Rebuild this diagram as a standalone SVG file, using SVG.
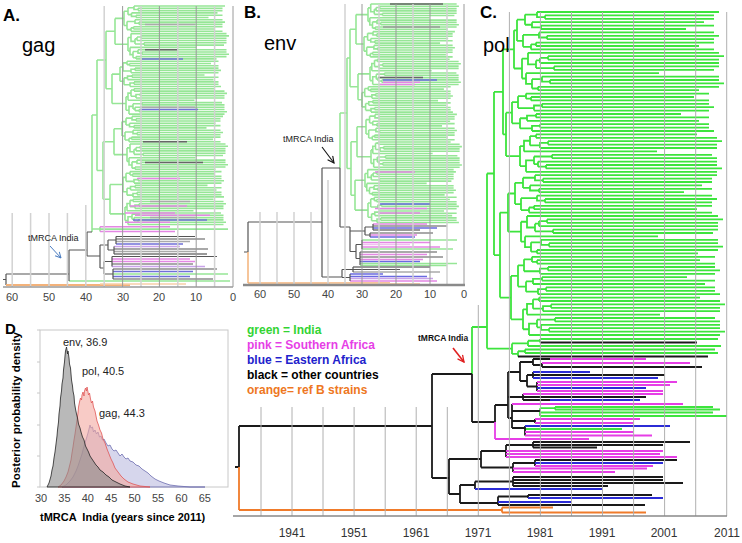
<svg xmlns="http://www.w3.org/2000/svg" width="742" height="543" viewBox="0 0 742 543">
<style>
text{font-family:"Liberation Sans",Arial,sans-serif}
.pl{font-weight:bold;font-size:17px;fill:#000}
.gn{font-size:20px;fill:#000}
.tk{font-size:11px;fill:#444;text-anchor:middle}
.tc{font-size:12px;fill:#333;text-anchor:middle}
.lg{font-size:12px;font-weight:bold}
.pA{fill:none;stroke:#96e696;stroke-width:1.6}
.pC{fill:none;stroke:#3de43d;stroke-width:1.8}
.k1{fill:none;stroke:#555;stroke-width:1.2}
.k2{fill:none;stroke:#1a1a1a;stroke-width:1.8}
.gl{fill:none;stroke:#d2d2d2;stroke-width:1.5}
.gd{fill:none;stroke:#9a9a9a;stroke-width:1}
.gc{fill:none;stroke:#b0b0b0;stroke-width:1}
.an{font-size:9px;fill:#222}
.dl{font-size:11px;fill:#222}
</style>
<defs>
<path id="t12" fill="none" vector-effect="non-scaling-stroke" d="M20 0H202M28 3.4H197M28 6.8H197M15 10.2H187M24 13.6H197M24 17H169M22 20.4H197M30 23.8H202M30 27.2H197M19 30.6H197M19 34H182M14 37.4H197M20 0V5.1H28M28 3.4V6.8M15 10.2V15.3H24M24 13.6V17M8 2.55V12.75M8 2.55H20M8 12.75H15M22 20.4V25.5H30M30 23.8V27.2M14 32.3V37.4M14 32.3H19M19 30.6V34M6 22.95V34.85M6 22.95H22M6 34.85H14M0 7.65V28.9M0 7.65H8M0 28.9H6"/>
<path id="t12b" fill="none" vector-effect="non-scaling-stroke" d="M6 0H197M26 3.4H202M26 6.8H197M18 10.2H197M32 13.6H197M32 17H192M4 20.4H137M20 23.8H197M28 27.2H197M28 30.6H202M16 34H197M16 37.4H177M26 3.4V6.8M18 5.1V10.2M18 5.1H26M14 7.65V15.3M14 7.65H18M14 15.3H32M32 13.6V17M6 0V11.475H14M28 27.2V30.6M20 23.8V28.9H28M16 34V37.4M10 26.35V35.7M10 26.35H20M10 35.7H16M4 20.4V31.03H10M0 5.74V25.7M0 5.74H6M0 25.7H4"/>
<marker id="mA" viewBox="0 0 10 10" refX="9" refY="5" markerWidth="7" markerHeight="7" markerUnits="userSpaceOnUse" orient="auto"><path d="M1 1L9 5L1 9" fill="none" stroke="#4a7cc0" stroke-width="1.4"/></marker>
<marker id="mB" viewBox="0 0 10 10" refX="9" refY="5" markerWidth="8" markerHeight="8" markerUnits="userSpaceOnUse" orient="auto"><path d="M1 1L9 5L1 9" fill="none" stroke="#111" stroke-width="1.4"/></marker>
<marker id="mC" viewBox="0 0 10 10" refX="9" refY="5" markerWidth="8" markerHeight="8" markerUnits="userSpaceOnUse" orient="auto"><path d="M1 1L9 5L1 9" fill="none" stroke="#e02020" stroke-width="1.6"/></marker>
</defs>
<rect width="742" height="543" fill="#fff"/>

<!-- PANEL A -->
<g id="panelA">
<g id="treeA-green" class="pA">
<use href="#t12" transform="translate(124,6) scale(.5,.6765)"/>
<use href="#t12b" transform="translate(128,33.6) scale(.5,.6765)"/>
<use href="#t12" transform="translate(120,86.5) scale(.5,-.6765)"/>
<use href="#t12b" transform="translate(126,114.1) scale(.5,-.6765)"/>
<use href="#t12" transform="translate(122,116.4) scale(.5,.6765)"/>
<use href="#t12b" transform="translate(127,144) scale(.5,.6765)"/>
<use href="#t12" transform="translate(123,196.9) scale(.5,-.6765)"/>
<use href="#t12b" transform="translate(125,224.5) scale(.5,-.6765)"/>
<path d="M115 18.4V44.2M115 18.4H124M115 44.2H128M112 74.1V103.5M112 74.1H120M112 103.5H126M106 31.3V88.8M106 31.3H115M106 88.8H112M114 128.8V154.6M114 128.8H122M114 154.6H127M110 184.5V213.9M110 184.5H123M110 213.9H125M103 141.7V199.2M103 141.7H114M103 199.2H110M97 60V170.5M97 60H106M97 170.5H103M92 115V232M92 115H97M92 229H100M100 226.8V231.4M100 229.1H228M69 281H230M113 274H228"/>
</g>
<g id="treeA-colour" fill="none" stroke-width="1.5">
<path stroke="#aaa" d="M145 24.4H195M140 107.2H195M150 201.5H190M150 217.6H195M116 241.5H190M114 251.5H196"/>
<path stroke="#666" d="M145 49.7H178M143 141.7H187M145 162.4H203"/>
<path stroke="#7070d8" d="M142 58.9H183M140 109.5H198M133 219.9H207M116 244H183M113 271.5H193M113 276.5H190"/>
<path stroke="#e487e4" d="M137 178.5H180M130 206.1H187M125 213H175M135 215.3H210M125 222.2H170M100 226.8H170M100 231.4H175M112 259H190M112 261.5H195"/>
<path stroke="#c9a3ea" d="M114 246.5H180M112 266.5H205"/>
<path stroke="#999" stroke-width="2" d="M114 254H207"/>
<path class="k1" d="M6 274V285M3 279.5H6M6 274H69M69 250V281M69 250H87M87 232V256M87 232H92M87 256H100M100 245V268M100 245H108M100 268H104M108 240V250M108 240H116M108 250H114M116 236.5V244M114 246.5V254M104 261.5V274M104 261.5H112M104 274H113M112 256.5V266.5M113 269V279M116 236.5H195M116 239H205M114 249H208M112 256.5H217M112 264H193M113 269H217M113 279H213"/>
<path stroke="#f3b27a" stroke-width="2" d="M6 285H130"/>
<path stroke="#f7cfa8" d="M100 284H186"/>
</g>
<g id="gridA">
<path class="gl" d="M12.2 213V287M30.6 213V287M49 213V287M67.4 213V287M85.8 205V287M104.2 6V287M141 6V287M177.8 6V287M214.6 6V287"/>
<path class="gd" d="M122.6 6V287M159.4 6V287M196.2 6V287M233 6V287"/>
<path d="M3 287H233" stroke="#9a9a9a" stroke-width="1.5"/>
</g>
<text class="pl" x="3" y="21">A.</text>
<text class="gn" x="22" y="52">gag</text>
<text class="an" x="28" y="241">tMRCA India</text>
<path d="M50 246L61 258" stroke="#4a7cc0" stroke-width="1" marker-end="url(#mA)"/>
<g id="axisA-labels">
<text class="tk" x="12" y="301">60</text><text class="tk" x="49" y="301">50</text><text class="tk" x="86" y="301">40</text><text class="tk" x="123" y="301">30</text><text class="tk" x="159" y="301">20</text><text class="tk" x="196" y="301">10</text><text class="tk" x="233" y="301">0</text>
</g>
</g>

<!-- PANEL B -->
<g id="panelB">
<g id="treeB-green" class="pA">
<use href="#t12b" transform="translate(368,4) scale(.45,.6765)"/>
<use href="#t12" transform="translate(364,31.6) scale(.45,.6765)"/>
<use href="#t12b" transform="translate(370,84.5) scale(.45,-.6765)"/>
<use href="#t12" transform="translate(362,112.1) scale(.45,-.6765)"/>
<use href="#t12" transform="translate(366,114.4) scale(.45,.6765)"/>
<use href="#t12b" transform="translate(371,167.3) scale(.45,-.6765)"/>
<use href="#t12b" transform="translate(365,169.6) scale(.45,.6765)"/>
<use href="#t12" transform="translate(368,222.5) scale(.45,-.6765)"/>
<path d="M356 14.6V44M356 14.6H368M356 44H364M358 73.9V99.7M358 73.9H370M358 99.7H362M350 29.3V86.8M350 29.3H356M350 86.8H358M357 126.8V156.7M357 126.8H366M357 156.7H371M355 180.2V210.1M355 180.2H365M355 210.1H368M351 141.8V195.2M351 141.8H357M351 195.2H355M347 58V168.5M347 58H350M347 168.5H351M340 113V168M340 113H347M362 240H457M362 249H453M360 263.5H457M360 265.5H447"/>
</g>
<g id="treeB-colour" fill="none" stroke-width="1.5">
<path stroke="#666" d="M390 4H443M378 77.6H423"/>
<path stroke="#999" d="M383 26.9H440"/>
<path stroke="#6a6ae0" d="M383 79.9H437M380 203.9H430M373 228H437M370 237H415M360 261.5H420M350 274H383M350 276.5H427"/>
<path stroke="#e487e4" d="M383 82.2H420M380 84.5H415M375 171.9H415M375 208.5H427M378 213.1H420M373 224H427M370 235H417M362 242.5H430M362 247H440M360 254.5H427M360 259.5H423M350 281H437"/>
<path stroke="#f0c0f0" d="M362 244.5H410"/>
<path stroke="#c9a3ea" d="M350 278.5H433"/>
<path stroke="#999" stroke-width="2" d="M373 230H420M353 267H430"/>
<path stroke="#aaa" d="M353 272H440"/>
<path class="k1" d="M248 222V252M244 252H248M248 222H322M322 168V277M322 168H340M340 168V227M340 227H350M350 227V251.5M350 231H365M350 251.5H356M365 227V235M365 227H373M365 235H370M373 224V230M370 233V237M356 244.5V258.5M356 244.5H362M356 258.5H360M362 240V249M360 252V265M322 277H342M342 269.5V277.5M342 269.5H353M342 277.5H350M353 267V272M350 274V281M373 226H447M370 233H433M360 252H437M360 257H443M353 269.5H400"/>
<path stroke="#f3b27a" stroke-width="1.5" d="M248 252V283M248 283H390"/>
<path stroke="#f7cfa8" d="M330 283.8H420"/>
</g>
<g id="gridB">
<path class="gl" d="M260 212V285M277 212V285M294 212V285M311 212V285M328 180V285M345 4V285M379 4V285M413 4V285M447 4V285"/>
<path class="gd" d="M362 4V285M396 4V285M430 4V285M464 4V285"/>
<path d="M243 285H465" stroke="#8a8a8a" stroke-width="2.5"/>
</g>
<text class="pl" x="244" y="18">B.</text>
<text class="gn" x="264" y="50">env</text>
<text class="an" x="283" y="142">tMRCA India</text>
<path d="M322 147L334 163" stroke="#111" stroke-width="1.1" marker-end="url(#mB)"/>
<g id="axisB-labels">
<text class="tk" x="260" y="298">60</text><text class="tk" x="294" y="298">50</text><text class="tk" x="328" y="298">40</text><text class="tk" x="362" y="298">30</text><text class="tk" x="396" y="298">20</text><text class="tk" x="430" y="298">10</text><text class="tk" x="464" y="298">0</text>
</g>
</g>

<!-- PANEL C -->
<g id="panelC">
<g id="treeC-green" class="pC">
<use href="#t12" transform="translate(517,12)"/>
<use href="#t12b" transform="translate(522,52.8)"/>
<use href="#t12" transform="translate(512,131) scale(1,-1)"/>
<use href="#t12b" transform="translate(520,171.8) scale(1,-1)"/>
<use href="#t12" transform="translate(515,175.2)"/>
<use href="#t12b" transform="translate(521,216)"/>
<use href="#t12" transform="translate(518,294.2) scale(1,-1)"/>
<use href="#t12b" transform="translate(523,335) scale(1,-1)"/>
<path d="M514 30.3V68.5M514 30.3H517M514 68.5H522M506 112.7V156.1M506 112.7H512M506 156.1H520M503 49.4V134.4M503 49.4H514M503 134.4H506M508 193.5V231.7M508 193.5H515M508 231.7H521M511 275.9V319.3M511 275.9H518M511 319.3H523M500 212.6V297.6M500 212.6H508M500 297.6H511M494 91.9V255.1M494 91.9H503M494 255.1H500M487 173.5V348.6M487 173.5H494M487 348.6H512M472 327H487M472 327V374M540 339H718M540 339V342.5M528 340.75V346M528 340.75H540M528 346H721M525 349.5V353M525 349.5H715M525 353H718M518 351.25V356.5M518 351.25H525M512 343.4V353.9M512 343.4H528M512 353.9H518M540 408.2V416M540 408.2H555M555 407V409.5M555 407H713M555 409.5H720M540 412.5H713M540 416H727M525 429H622"/>
</g>
<g id="treeC-other" fill="none" stroke-width="1.8">
<path class="k2" d="M540 342.5H697M518 356.5H708M235 467H239M239 426V467M239 426H432M432 374V478M432 374H472M472 374V422M472 422H495M495 405V422M495 405H508M508 372V418M508 372H520M508 397H523M508 418H512M432 478H449M449 459V494M449 459H481M449 494H460M481 451V467.5M481 451H506M481 467.5H513M460 485V503M460 485H475M460 503H498M520 362V381M520 362H533M520 381H527M533 359V365M533 365H542M542 363V367M533 359H550M542 367H702M527 375V386.5M527 375H533M527 386.5H537M533 372V378M533 375H665M537 382V391M523 394V400M523 397H646M523 400H550M512 404V428M512 411H540M512 421H535M512 428H525M535 419V423M525 426V435.5M506 445V457M506 445H533M533 442V447.5M533 442H690M533 445H663M533 447.5H597M513 463V472M513 463H535M535 460V466M535 460H677M475 481.5V489M475 481.5H513M513 477V486M513 477H663M513 480H663M513 483H683M513 486H608M498 496.5V505M498 496.5H528M528 495V498M528 495H652M498 505H645"/>
<path stroke="#e63ee6" d="M495 422V439M495 439H589M550 359H646M542 363H690M537 382H677M537 385H670M537 391H663M523 394H663M512 404H683M535 419H640M535 423H633M525 432H633M525 435.5H652M506 451H663M506 454H660M506 457H677M535 466H653M513 468.5H647M513 472H615"/>
<path stroke="#2b2bd6" d="M533 372H590M533 378H658M537 388H646M550 400H640M525 426H670M535 463H663M475 489H602M528 498H663M498 502H572"/>
<path stroke="#f07b2a" d="M239 467V510M239 510H502M502 507.5V512.5M502 507.5H553M502 512.5H646"/>
</g>
<g id="gridC">
<path class="gc" d="M261 407V516M323 407V516M354.1 407V516M385.2 407V516M416.2 407V516M447.3 407V516M478.3 305V516M509.4 12V516M540.4 12V516M571.5 12V516M602.5 12V516M633.6 12V516M664.6 12V516M695.7 12V516M726.7 12V516M292 407V516"/>
<path d="M233 516H727" stroke="#888" stroke-width="1.5"/>
</g>
<text class="pl" x="480" y="18">C.</text>
<text class="gn" x="483" y="52">pol</text>
<g id="legend" class="lg">
<text x="247" y="334" fill="#33d433">green = India</text>
<text x="247" y="349" fill="#e63ee6">pink = Southern Africa</text>
<text x="247" y="364" fill="#2222cc">blue = Eastern Africa</text>
<text x="247" y="379" fill="#000">black = other countries</text>
<text x="247" y="394" fill="#ee7722">orange= ref B strains</text>
</g>
<text x="418" y="341" font-size="8.5" font-weight="bold" fill="#111">tMRCA India</text>
<path d="M453 348L464 362" stroke="#e02020" stroke-width="1.6" marker-end="url(#mC)"/>
<g id="axisC-labels">
<text class="tc" x="292" y="537">1941</text><text class="tc" x="354" y="537">1951</text><text class="tc" x="416" y="537">1961</text><text class="tc" x="478" y="537">1971</text><text class="tc" x="540" y="537">1981</text><text class="tc" x="602" y="537">1991</text><text class="tc" x="664" y="537">2001</text><text class="tc" x="727" y="537">2011</text>
</g>
</g>

<!-- PANEL D -->
<g id="panelD">
<rect x="40" y="330" width="188" height="157" fill="none" stroke="#c8c8c8" stroke-width="1"/>
<path d="M37 362H40M37 393H40M37 425H40M37 456H40M37 487H40M37 330H40" stroke="#c8c8c8"/>
<path fill="#b4b4dc" fill-opacity=".55" stroke="#6d6db0" stroke-width=".8" d="M62 487L66 485L70 481L73 477L76 471L78 466L80 460L82 454L83.5 448L85 443L86.5 438L88 433L89 429L90 425L91 428L92.5 427L93.5 432L95 430L96.5 434L98 432L99.5 437L101 436L102.5 440L104 439L106 443L108 446L110 445L112 449L114 451L116 450L118 453L120 456L122 454L124 457L126 459L128 458L130 461L133 462L136 465L139 466L142 469L145 471L148 473L151 476L155 479L159 481L164 483L170 485L178 486L190 487L205 487Z"/>
<path fill="#f4a9a0" fill-opacity=".6" stroke="#e05555" stroke-width=".8" d="M58 487L61 485L64 481L66 477L68 472L69.5 466L71 460L72 453L73 447L74 440L75 434L76 427L77 420L78 413L78.5 407L79.5 402L80.5 398L81.5 400L82 395L83 392L84 396L84.5 391L85.5 388L86.5 391L87 387L88 392L88.5 395L89.5 393L90.5 399L91.5 403L92.5 401L93.5 407L95 411L96 416L97 421L98.5 425L100 430L101.5 433L103 439L105 443L107 449L109 454L111 459L113 463L115 468L118 472L121 476L124 479L128 482L133 484L140 486L150 487Z"/>
<path fill="#8a8a8a" fill-opacity=".6" stroke="#222" stroke-width=".8" d="M47 487L49 483L51 476L52 470L53 466L54 458L55 452L56 444L57 436L57.5 430L58.5 422L59 414L60 406L60.5 398L61.5 391L62 384L63 378L63.5 370L64.5 362L65 356L65.5 351L66.5 347L67 350L67.5 354L68 351L69 358L69.5 364L70.5 368L71 374L71.5 380L72.5 386L73 391L74 396L74.5 403L75.5 409L76.5 414L77.5 418L78.5 424L80 428L81 432L82.5 437L84 440L85.5 446L87 449L88.5 452L90 456L92 459L94 462L96 465L98 467L100 470L103 472L106 475L109 477L112 480L116 482L120 484L125 486L130 487Z"/>
<text class="dl" x="63" y="346">env, 36.9</text>
<text class="dl" x="82" y="375">pol, 40.5</text>
<text class="dl" x="99" y="417">gag, 44.3</text>
<text x="5" y="334" font-size="15" font-weight="bold">D</text>
<text transform="translate(20,410) rotate(-90)" text-anchor="middle" font-size="11.5" font-weight="bold">Posterior probability density</text>
<text x="40" y="521" font-size="11" font-weight="bold" style="white-space:pre">tMRCA  India (years since 2011)</text>
<g id="axisD-labels">
<text class="tk" x="41" y="502">30</text><text class="tk" x="64.4" y="502">35</text><text class="tk" x="87.8" y="502">40</text><text class="tk" x="111.2" y="502">45</text><text class="tk" x="134.6" y="502">50</text><text class="tk" x="158" y="502">55</text><text class="tk" x="181.4" y="502">60</text><text class="tk" x="204.8" y="502">65</text>
</g>
</g>
</svg>
